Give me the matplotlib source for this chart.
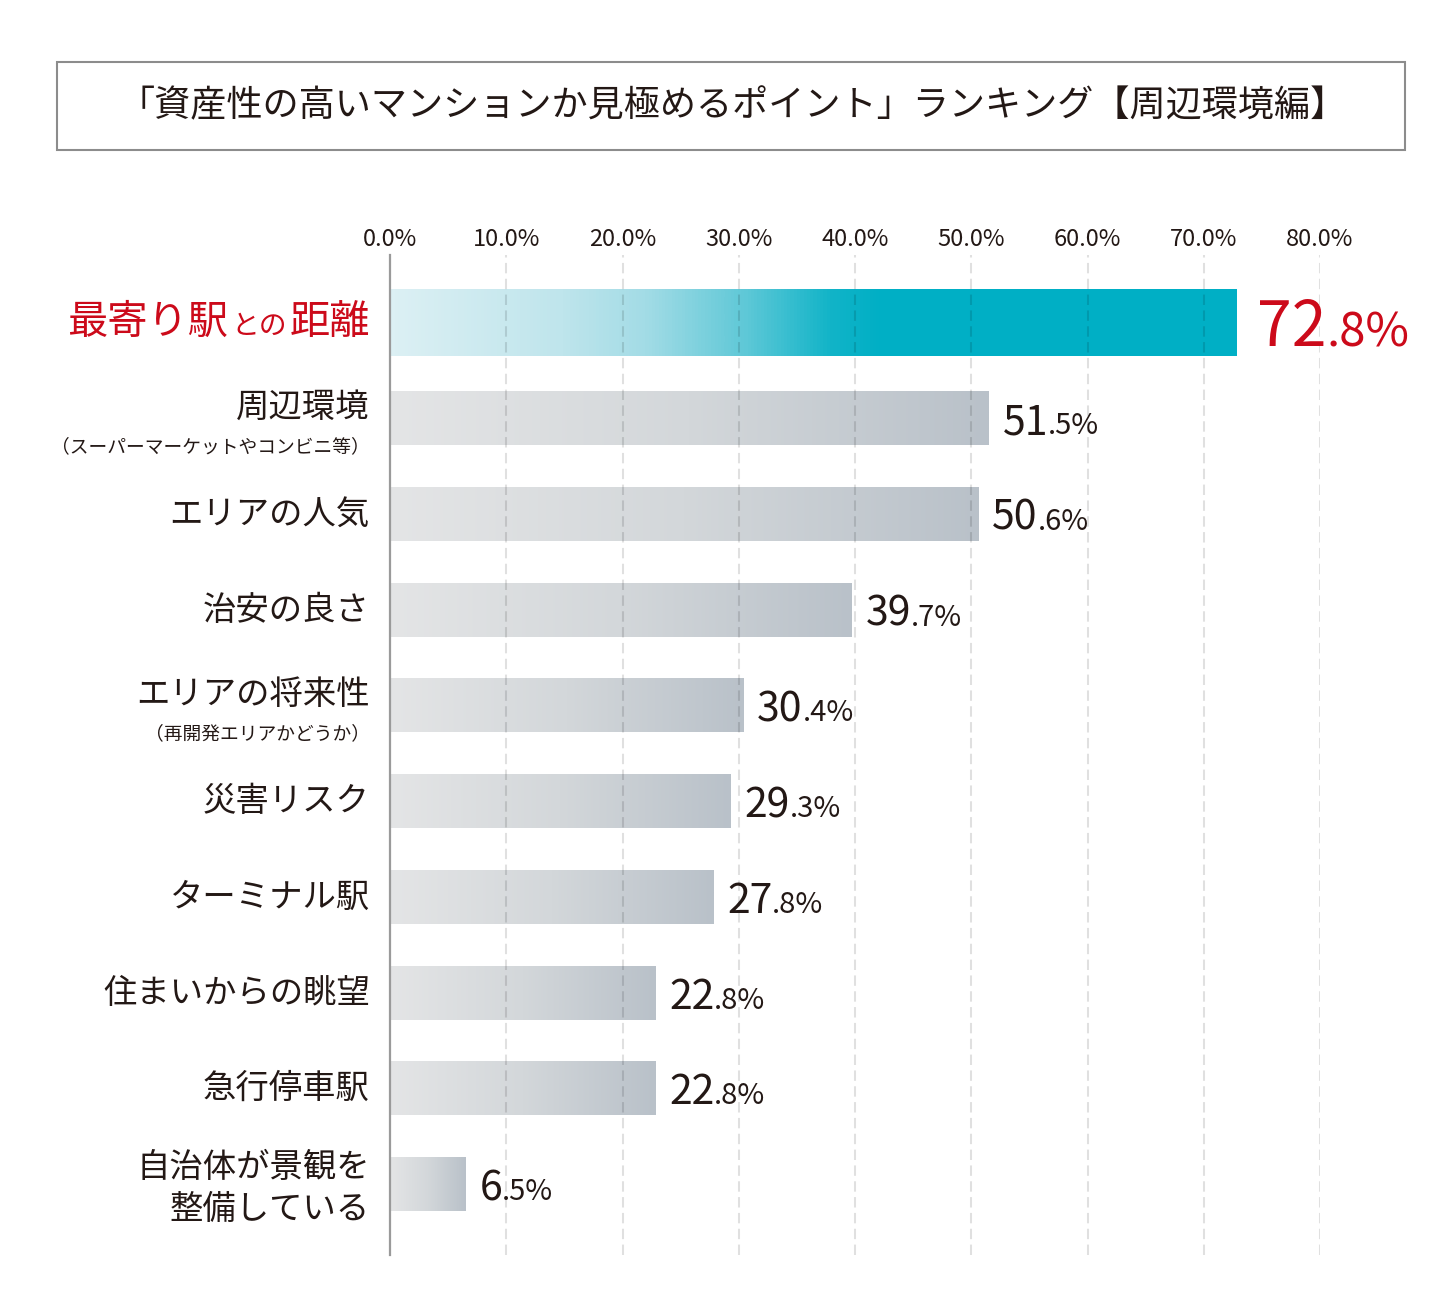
import numpy as np
import matplotlib
matplotlib.use("Agg")
import matplotlib.pyplot as plt
from matplotlib.colors import LinearSegmentedColormap
from matplotlib.offsetbox import TextArea, HPacker, AnnotationBbox
from matplotlib.patches import Rectangle

plt.rcParams['font.family'] = ['Noto Sans CJK JP', 'DejaVu Sans']

# data
title = "「資産性の高いマンションか見極めるポイント」ランキング【周辺環境編】"
labels = ["最寄り駅との距離", "周辺環境", "エリアの人気", "治安の良さ", "エリアの将来性",
          "災害リスク", "ターミナル駅", "住まいからの眺望", "急行停車駅",
          "自治体が景観を\n整備している"]
sublabels = ["", "（スーパーマーケットやコンビニ等）", "", "", "（再開発エリアかどうか）",
             "", "", "", "", ""]
highlight_parts = ["最寄り駅", "との", "距離"]
values = [72.8, 51.5, 50.6, 39.7, 30.4, 29.3, 27.8, 22.8, 22.8, 6.5]
ticks = [0, 10, 20, 30, 40, 50, 60, 70, 80]
tick_labels = ["0.0%", "10.0%", "20.0%", "30.0%", "40.0%", "50.0%", "60.0%", "70.0%", "80.0%"]

DARK = '#231815'
RED = '#cc0a1a'

W, H = 1456, 1316
fig = plt.figure(figsize=(W / 100, H / 100), dpi=100)
fig.patch.set_facecolor('white')

# title box
fig.add_artist(Rectangle((57 / W, 1 - 150 / H), 1348 / W, 88 / H, transform=fig.transFigure,
                         fill=False, edgecolor='#8c8c8c', lw=1.5))
fig.text(733 / W, 1 - 106 / H, title, ha='center', va='center', fontsize=26, color=DARK)

ax = fig.add_axes([390 / W, 1 - 1255 / H, 930 / W, 1000 / H])

grey_cmap = LinearSegmentedColormap.from_list('grey', ['#e4e5e6', '#d3d7da', '#b9c1c9'])
teal_cmap = LinearSegmentedColormap.from_list(
    'teal', [(0, '#dcf0f4'), (0.2, '#bfe5ec'), (0.3, '#a3dce6'),
             (0.42, '#5ec8d7'), (0.52, '#12b4c8'), (0.58, '#00afc5'), (1, '#00afc5')])
grad = np.linspace(0, 1, 256).reshape(1, -1)

ypos = np.arange(len(values))
for i, (y, v) in enumerate(zip(ypos, values)):
    h = 0.69 if i == 0 else 0.555
    cmap = teal_cmap if i == 0 else grey_cmap
    ax.imshow(grad, extent=[0, v, y + h / 2, y - h / 2], cmap=cmap, aspect='auto',
              interpolation='bilinear', zorder=2)

ax.set_xlim(0, 80)
ax.set_ylim(9.736, -0.708)

# dashed grid
for t in ticks[1:]:
    ax.axvline(t, color='black', alpha=0.12, lw=1.5, ls=(0, (5, 2.6)), zorder=3)

for s in ['top', 'right', 'bottom']:
    ax.spines[s].set_visible(False)
ax.spines['left'].set_color('#9a9a9a')
ax.spines['left'].set_linewidth(1.6)
ax.spines['left'].set_zorder(4)

ax.xaxis.tick_top()
ax.set_xticks(ticks)
ax.set_xticklabels(tick_labels, fontsize=17, color=DARK)
ax.tick_params(axis='x', length=0, pad=3)
ax.set_yticks([])

# category labels
for i, (y, lab, sub) in enumerate(zip(ypos, labels, sublabels)):
    if i == 0:
        parts = [TextArea(p, textprops=dict(fontsize=fs, color=RED))
                 for p, fs in zip(highlight_parts, [29, 20, 29])]
        box = HPacker(children=parts, align='baseline', pad=0, sep=2)
        ab = AnnotationBbox(box, (0, y), xybox=(-14.5, 0), boxcoords='offset points',
                            box_alignment=(1, 0.5), frameon=False, pad=0,
                            annotation_clip=False)
        ax.add_artist(ab)
        continue
    if sub:
        ax.annotate(lab, xy=(0, y), xytext=(-14.5, 8), textcoords='offset points',
                    ha='right', va='center', fontsize=24, color=DARK)
        ax.annotate(sub, xy=(0, y), xytext=(-14.5, -20), textcoords='offset points',
                    ha='right', va='center', fontsize=13.5, color=DARK)
    elif '\n' in lab:
        ax.annotate(lab, xy=(0, y), xytext=(-14.5, -3), textcoords='offset points',
                    ha='right', va='center', fontsize=24, color=DARK,
                    multialignment='right', linespacing=1.25)
    else:
        ax.annotate(lab, xy=(0, y), xytext=(-14.5, 0), textcoords='offset points',
                    ha='right', va='center', fontsize=24, color=DARK)

# value labels
for i, (y, v) in enumerate(zip(ypos, values)):
    s = f"{v:.1f}"
    whole, frac = s.split('.')
    if i == 0:
        fs1, fs2, col, dx, dy = 45, 34, RED, 15, -4
    else:
        fs1, fs2, col, dx, dy = 29.5, 21, DARK, 10, -3
    parts = [TextArea(whole, textprops=dict(fontsize=fs1, color=col)),
             TextArea('.' + frac + '%', textprops=dict(fontsize=fs2, color=col))]
    box = HPacker(children=parts, align='baseline', pad=0, sep=0)
    ab = AnnotationBbox(box, (v, y), xybox=(dx, dy), boxcoords='offset points',
                        box_alignment=(0, 0.5), frameon=False, pad=0,
                        annotation_clip=False)
    ax.add_artist(ab)

fig.savefig('out.png', dpi=100, facecolor='white')
